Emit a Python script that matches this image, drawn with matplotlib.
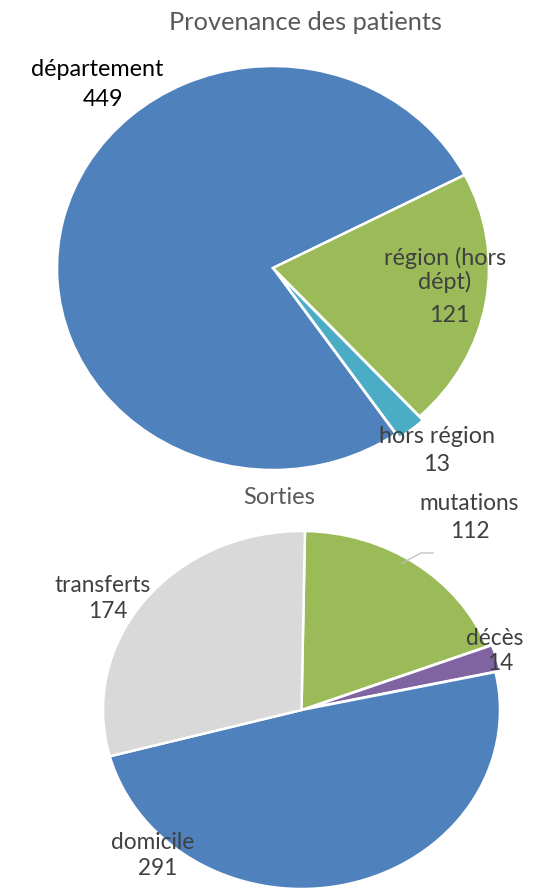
import numpy as np
import matplotlib
matplotlib.use("Agg")
import matplotlib.pyplot as plt
from matplotlib.lines import Line2D

# ---- data ----
prov_labels = ["département", "région (hors\ndépt)", "hors région"]
prov_values = [449, 121, 13]
sort_labels = ["mutations", "décès", "domicile", "transferts"]
sort_values = [112, 14, 291, 174]

W, H = 543, 888
plt.rcParams['font.family'] = ['Lato', 'DejaVu Sans']
fig = plt.figure(figsize=(W / 100, H / 100), dpi=100)

def px_axes(l, t, r, b):
    return fig.add_axes([l / W, 1 - b / H, (r - l) / W, (b - t) / H])

def ftext(x, y, s, **kw):
    fig.text(x / W, 1 - y / H, s, ha='center', va='center', **kw)

BLUE = '#4F81BD'; GREEN = '#9BBB59'; TEAL = '#4BACC6'
PURPLE = '#8064A2'; GREY = '#D9D9D9'
TXT = '#404040'

# ---- top pie ----
ax1 = px_axes(57, 66, 489, 470)
ax1.pie(prov_values, colors=[BLUE, GREEN, TEAL], startangle=-55.3,
        counterclock=False, explode=[0, 0, 0.025],
        wedgeprops=dict(edgecolor='white', linewidth=1.8))
ax1.set_aspect('auto'); ax1.set_xlim(-1.0, 1.0); ax1.set_ylim(-1.0, 1.0)
ax1.axis('off')

F1 = 16.8
ftext(305, 22, "Provenance des patients", color='#595959', fontsize=18.3)
ftext(97, 70, prov_labels[0], color='black', fontsize=F1)
ftext(103, 100, str(prov_values[0]), color='black', fontsize=F1)
ftext(445, 270, prov_labels[1], color=TXT, fontsize=F1, linespacing=1.15)
ftext(449, 316, str(prov_values[1]), color=TXT, fontsize=F1)
ftext(437, 436, prov_labels[2], color=TXT, fontsize=F1)
ftext(437, 464, str(prov_values[2]), color=TXT, fontsize=F1)

# ---- bottom pie ----
ax2 = px_axes(103, 531, 500, 889)
wedges, _ = ax2.pie(sort_values, colors=[GREEN, PURPLE, BLUE, GREY], startangle=89,
                    counterclock=False, explode=[0, 0.025, 0, 0],
                    wedgeprops=dict(edgecolor='white', linewidth=1.8))
ax2.set_aspect('auto'); ax2.set_xlim(-1.0, 1.0); ax2.set_ylim(-1.0, 1.0)
ax2.axis('off')

F2 = 16.3
ftext(279, 497, "Sorties", color='#595959', fontsize=17)
ftext(469, 503, sort_labels[0], color=TXT, fontsize=F2)
ftext(470, 532, str(sort_values[0]), color=TXT, fontsize=F2)
ftext(495, 638, sort_labels[1], color=TXT, fontsize=F2)
ftext(500, 663, str(sort_values[1]), color=TXT, fontsize=F2)
ftext(153, 842, sort_labels[2], color=TXT, fontsize=F2)
ftext(158, 868, str(sort_values[2]), color=TXT, fontsize=F2)
ftext(103, 585, sort_labels[3], color=TXT, fontsize=F2)
ftext(108, 612, str(sort_values[3]), color=TXT, fontsize=F2)

# leader line for mutations
w = wedges[0]
t1, t2 = sorted([w.theta1, w.theta2])
ang = np.deg2rad(t1 + (t2 - t1) * 0.55)
p0 = ax2.transData.transform((0.965 * np.cos(ang), 0.965 * np.sin(ang)))
pts = [(p0[0] / W, p0[1] / H), (421 / W, 1 - 553 / H), (433 / W, 1 - 553 / H)]
fig.add_artist(Line2D([p[0] for p in pts], [p[1] for p in pts],
                      transform=fig.transFigure, color='#BFBFBF', linewidth=0.9))

fig.savefig("out.png", dpi=100)
